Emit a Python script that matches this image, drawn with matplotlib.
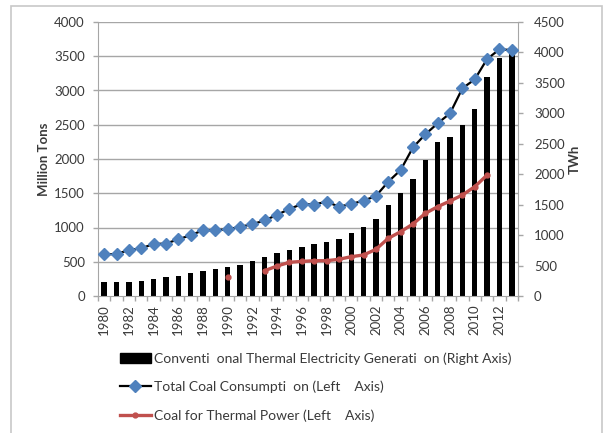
import matplotlib
matplotlib.use("Agg")
import matplotlib.pyplot as plt
import matplotlib.transforms as mtransforms
from matplotlib.lines import Line2D
from matplotlib.patches import Patch, Rectangle
import numpy as np

plt.rcParams['font.family'] = ['Lato', 'DejaVu Sans']

years = list(range(1980, 2014))
thermal_twh = [225, 225, 235, 251, 274, 307, 334, 372, 410, 438,
               471, 509, 580, 646, 701, 755, 800, 854, 882, 937,
               1041, 1130, 1267, 1499, 1692, 1923, 2226, 2535, 2617, 2810,
               3069, 3604, 3912, 4006]
total_coal = [608, 613, 671, 696, 760, 765, 828, 887, 960, 960,
              975, 1009, 1049, 1103, 1186, 1270, 1343, 1335, 1377, 1304,
              1343, 1392, 1460, 1669, 1839, 2170, 2360, 2521, 2667, 3032,
              3163, 3460, 3601, 3591]
coal_thermal = [np.nan] * 10 + [273, np.nan, np.nan, 370, 438, 492, 505, 515, 515, 536,
                                574, 599, 681, 842, 939, 1051, 1207, 1304, 1387, 1474,
                                1596, 1766, np.nan, np.nan]
year_labels = [str(y) for y in years[::2]]

W, H = 605, 433
fig = plt.figure(figsize=(W / 100, H / 100), dpi=100)
left, right, top, bottom = 98, 518, 22, 296
ax_bar = fig.add_axes([left / W, 1 - bottom / H, (right - left) / W, (bottom - top) / H])
ax = ax_bar.twinx()
ax.set_zorder(ax_bar.get_zorder() + 1)
ax.patch.set_visible(False)
ax.xaxis.set_visible(True)

x = np.arange(len(years))
grey = '#A6A6A6'
tcol = '#3a3a3a'
fs = 9.5

# bars on right axis
ax_bar.bar(x, thermal_twh, width=0.44, color='black', zorder=3)
ax_bar.set_ylim(0, 4500)
ax_bar.set_yticks(np.arange(0, 4501, 500))
ax_bar.yaxis.tick_right()
ax_bar.yaxis.set_label_position('right')
ax_bar.set_ylabel('TWh', fontsize=fs, fontweight='bold', color=tcol, labelpad=3)

# lines on left axis
ax.plot(x, total_coal, color='black', lw=1.6, marker='D', ms=6.5,
        mfc='#4F81BD', mec='#4F81BD', zorder=4)
ax.plot(x, coal_thermal, color='#C0504D', lw=2.4, marker='o', ms=3.5,
        mfc='#C0504D', mec='#C0504D', solid_joinstyle='round', zorder=3)
ax.set_ylim(0, 4000)
ax.set_yticks(np.arange(0, 4001, 500))
ax.yaxis.tick_left()
ax.yaxis.set_label_position('left')
ax.set_ylabel('Million Tons', fontsize=fs, fontweight='bold', color=tcol, labelpad=3)

# gridlines from left axis, drawn behind bars
trans = mtransforms.blended_transform_factory(ax_bar.transAxes, ax.transData)
for v in np.arange(500, 4001, 500):
    ax_bar.plot([0, 1], [v, v], transform=trans, color=grey, lw=1.0, zorder=1)

for a in (ax, ax_bar):
    a.set_xlim(-0.5, len(years) - 0.5)
    for s in a.spines.values():
        s.set_visible(False)

ax.spines['left'].set_visible(True)
ax.spines['left'].set_color(grey)
ax.spines['bottom'].set_visible(True)
ax.spines['bottom'].set_color(grey)
ax.spines['right'].set_visible(True)
ax.spines['right'].set_color(grey)

ax.tick_params(axis='y', length=3.5, width=1, color=grey, labelsize=fs, labelcolor=tcol, pad=6)
ax_bar.tick_params(axis='y', length=3.5, width=1, color=grey, labelsize=fs, labelcolor=tcol, pad=8)

ax.set_xticks(x[::2])
ax.set_xticklabels(year_labels, rotation=90, fontsize=fs, color=tcol)
ax.set_xticks(np.arange(-0.5, len(years), 1), minor=True)
ax.tick_params(axis='x', which='major', length=0, pad=6, labelbottom=True, bottom=True)
ax.tick_params(axis='x', which='minor', length=3.5, width=1, color=grey, bottom=True)
ax_bar.tick_params(axis='x', which='both', length=0, labelbottom=False)

# legend
handles = [
    Patch(facecolor='black', edgecolor='black'),
    Line2D([], [], color='black', lw=1.6, marker='D', ms=6, mfc='#4F81BD', mec='#4F81BD'),
    Line2D([], [], color='#C0504D', lw=2.4, marker='o', ms=3.5, mfc='#C0504D', mec='#C0504D'),
]
labels = ['Conventi  onal Thermal Electricity Generati  on (Right Axis)',
          'Total Coal Consumpti  on (Left    Axis)',
          'Coal for Thermal Power (Left    Axis)']
leg = fig.legend(handles, labels, loc='upper left', bbox_to_anchor=(120 / W, 1 - 352 / H),
                 frameon=False, fontsize=10, handlelength=2.2, handletextpad=0.25,
                 labelspacing=1.15, borderpad=0, borderaxespad=0)
for t in leg.get_texts():
    t.set_color(tcol)

# outer chart border
fig.patches.append(Rectangle((11 / W, -0.1), (602 - 11) / W, 1.1 - 6 / H,
                             transform=fig.transFigure, fill=False,
                             edgecolor='#C8C8C8', lw=1.2))

fig.savefig('out.png', dpi=100)
